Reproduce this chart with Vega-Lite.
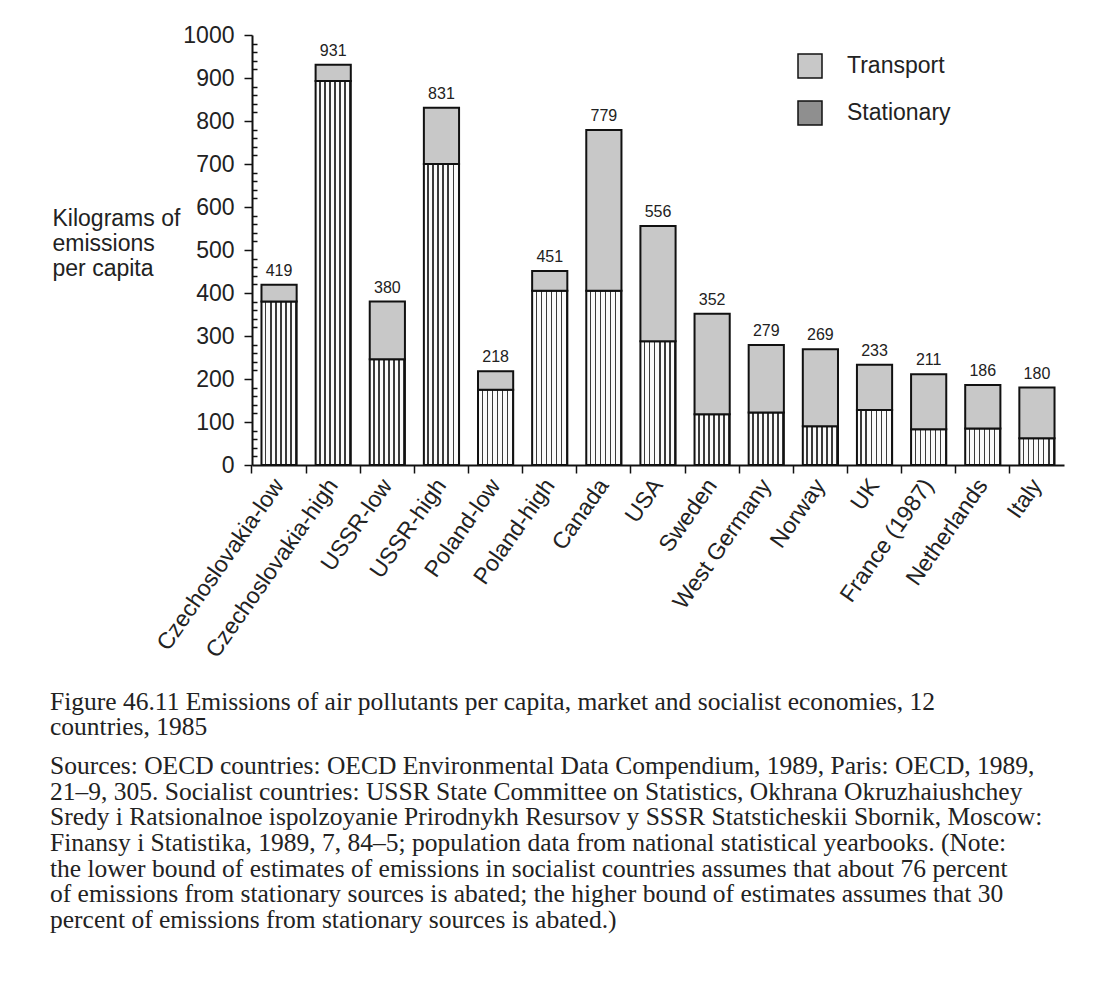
{
  "$schema": "https://vega.github.io/schema/vega-lite/v6.json",
  "width": 812,
  "height": 430,
  "autosize": {"type": "none"},
  "padding": {"left": 252, "top": 35, "right": 54, "bottom": 517},
  "background": "white",
  "config": {
    "view": {"stroke": null},
    "font": "Liberation Sans",
    "text": {"font": "Liberation Sans"}
  },
  "title": {
    "text": ["Figure 46.11  Emissions of air pollutants per capita, market and socialist economies, 12", "countries, 1985"],
    "subtitle": [
      "Sources: OECD countries: OECD Environmental Data Compendium, 1989, Paris: OECD, 1989,",
      "21–9, 305. Socialist countries: USSR State Committee on Statistics, Okhrana Okruzhaiushchey",
      "Sredy i Ratsionalnoe ispolzoyanie Prirodnykh Resursov y SSSR Statsticheskii Sbornik, Moscow:",
      "Finansy i Statistika, 1989, 7, 84–5; population data from national statistical yearbooks. (Note:",
      "the lower bound of estimates of emissions in socialist countries assumes that about 76 percent",
      "of emissions from stationary sources is abated; the higher bound of estimates assumes that 30",
      "percent of emissions from stationary sources is abated.)"
    ],
    "orient": "bottom",
    "anchor": "start",
    "frame": "group",
    "dx": -202,
    "offset": 28,
    "font": "Liberation Serif",
    "fontSize": 25.5,
    "fontWeight": "normal",
    "lineHeight": 25.7,
    "color": "#222",
    "subtitleFont": "Liberation Serif",
    "subtitleFontSize": 25.5,
    "subtitleLineHeight": 25.7,
    "subtitleColor": "#222",
    "subtitlePadding": 13
  },
  "data": {
    "values": [
      {"country": "Czechoslovakia-low", "type": "Stationary", "value": 380},
      {"country": "Czechoslovakia-low", "type": "Transport", "value": 39},
      {"country": "Czechoslovakia-high", "type": "Stationary", "value": 893},
      {"country": "Czechoslovakia-high", "type": "Transport", "value": 38},
      {"country": "USSR-low", "type": "Stationary", "value": 246},
      {"country": "USSR-low", "type": "Transport", "value": 134},
      {"country": "USSR-high", "type": "Stationary", "value": 700},
      {"country": "USSR-high", "type": "Transport", "value": 131},
      {"country": "Poland-low", "type": "Stationary", "value": 175},
      {"country": "Poland-low", "type": "Transport", "value": 43},
      {"country": "Poland-high", "type": "Stationary", "value": 405},
      {"country": "Poland-high", "type": "Transport", "value": 46},
      {"country": "Canada", "type": "Stationary", "value": 405},
      {"country": "Canada", "type": "Transport", "value": 374},
      {"country": "USA", "type": "Stationary", "value": 288},
      {"country": "USA", "type": "Transport", "value": 268},
      {"country": "Sweden", "type": "Stationary", "value": 118},
      {"country": "Sweden", "type": "Transport", "value": 234},
      {"country": "West Germany", "type": "Stationary", "value": 122},
      {"country": "West Germany", "type": "Transport", "value": 157},
      {"country": "Norway", "type": "Stationary", "value": 90},
      {"country": "Norway", "type": "Transport", "value": 179},
      {"country": "UK", "type": "Stationary", "value": 128},
      {"country": "UK", "type": "Transport", "value": 105},
      {"country": "France (1987)", "type": "Stationary", "value": 83},
      {"country": "France (1987)", "type": "Transport", "value": 128},
      {"country": "Netherlands", "type": "Stationary", "value": 85},
      {"country": "Netherlands", "type": "Transport", "value": 101},
      {"country": "Italy", "type": "Stationary", "value": 62},
      {"country": "Italy", "type": "Transport", "value": 118}
    ]
  },
  "resolve": {"axis": {"y": "independent"}},
  "layer": [
    {
      "mark": {"type": "bar", "stroke": "#111", "strokeWidth": 2},
      "encoding": {
        "x": {
          "field": "country",
          "type": "nominal",
          "sort": null,
          "scale": {"paddingInner": 0.35, "paddingOuter": 0.175},
          "axis": {
            "title": null,
            "labelAngle": -55,
            "labelAlign": "right",
            "labelBaseline": "middle",
            "labelFontSize": 23,
            "labelColor": "#222",
            "labelPadding": 8,
            "labelOffset": 0,
            "labelLimit": 0,
            "labelOverlap": false,
            "bandPosition": -0.27,
            "tickSize": 8,
            "tickColor": "#111",
            "tickWidth": 1.5,
            "domainColor": "#111",
            "domainWidth": 2,
            "grid": false
          }
        },
        "y": {
          "field": "value",
          "type": "quantitative",
          "stack": "zero",
          "scale": {"domain": [0, 1000], "nice": false},
          "axis": {
            "orient": "left",
            "title": ["Kilograms of", "emissions", "per capita"],
            "titleAngle": 0,
            "titleAlign": "left",
            "titleBaseline": "alphabetic",
            "titleX": -200,
            "titleY": 190,
            "titleFontSize": 23,
            "titleFontWeight": "normal",
            "titleLineHeight": 25,
            "titleColor": "#222",
            "values": [0, 100, 200, 300, 400, 500, 600, 700, 800, 900, 1000],
            "format": "d",
            "labelOverlap": false,
            "labelFlush": false,
            "tickSize": 8,
            "labelFontSize": 23,
            "labelColor": "#222",
            "labelPadding": 10,
            "grid": false,
            "domainColor": "#111",
            "domainWidth": 2,
            "tickColor": "#111",
            "tickWidth": 1.5
          }
        },
        "fill": {
          "field": "type",
          "type": "nominal",
          "condition": {
            "test": "datum.type === 'Stationary'",
            "value": {
              "gradient": "linear",
              "x1": 0, "y1": 0, "x2": 1, "y2": 0,
              "stops": [
                {"offset": 0, "color": "#fafafa"},
                {"offset": 0.1, "color": "#fafafa"},
                {"offset": 0.1, "color": "#3a3a3a"},
                {"offset": 0.142857, "color": "#3a3a3a"},
                {"offset": 0.142857, "color": "#fafafa"},
                {"offset": 0.242857, "color": "#fafafa"},
                {"offset": 0.242857, "color": "#3a3a3a"},
                {"offset": 0.285714, "color": "#3a3a3a"},
                {"offset": 0.285714, "color": "#fafafa"},
                {"offset": 0.385714, "color": "#fafafa"},
                {"offset": 0.385714, "color": "#3a3a3a"},
                {"offset": 0.428571, "color": "#3a3a3a"},
                {"offset": 0.428571, "color": "#fafafa"},
                {"offset": 0.528571, "color": "#fafafa"},
                {"offset": 0.528571, "color": "#3a3a3a"},
                {"offset": 0.571429, "color": "#3a3a3a"},
                {"offset": 0.571429, "color": "#fafafa"},
                {"offset": 0.671429, "color": "#fafafa"},
                {"offset": 0.671429, "color": "#3a3a3a"},
                {"offset": 0.714286, "color": "#3a3a3a"},
                {"offset": 0.714286, "color": "#fafafa"},
                {"offset": 0.814286, "color": "#fafafa"},
                {"offset": 0.814286, "color": "#3a3a3a"},
                {"offset": 0.857143, "color": "#3a3a3a"},
                {"offset": 0.857143, "color": "#fafafa"},
                {"offset": 0.957143, "color": "#fafafa"},
                {"offset": 0.957143, "color": "#3a3a3a"},
                {"offset": 1, "color": "#3a3a3a"}
              ]
            }
          },
          "scale": {"domain": ["Transport", "Stationary"], "range": ["#c8c8c8", "#8f8f8f"]},
          "legend": {
            "title": null,
            "orient": "none",
            "legendX": 545,
            "legendY": 18,
            "symbolType": "square",
            "symbolSize": 576,
            "symbolStrokeColor": "#111",
            "symbolStrokeWidth": 1.5,
            "labelFontSize": 23,
            "labelColor": "#222",
            "labelOffset": 24,
            "rowPadding": 17
          }
        },
        "order": {"field": "type", "sort": "ascending"}
      }
    },
    {
      "transform": [
        {"aggregate": [{"op": "sum", "field": "value", "as": "total"}], "groupby": ["country"]}
      ],
      "mark": {"type": "text", "baseline": "alphabetic", "dy": -9, "fontSize": 16, "color": "#222"},
      "encoding": {
        "x": {"field": "country", "type": "nominal", "sort": null},
        "y": {
          "field": "total",
          "type": "quantitative",
          "axis": {
            "orient": "left",
            "title": null,
            "labels": false,
            "domain": false,
            "grid": false,
            "values": [20,40,60,80,120,140,160,180,220,240,260,280,320,340,360,380,420,440,460,480,520,540,560,580,620,640,660,680,720,740,760,780,820,840,860,880,920,940,960,980],
            "tickSize": -5,
            "tickColor": "#111",
            "tickWidth": 1.5
          }
        },
        "text": {"field": "total", "type": "quantitative"}
      }
    }
  ]
}
